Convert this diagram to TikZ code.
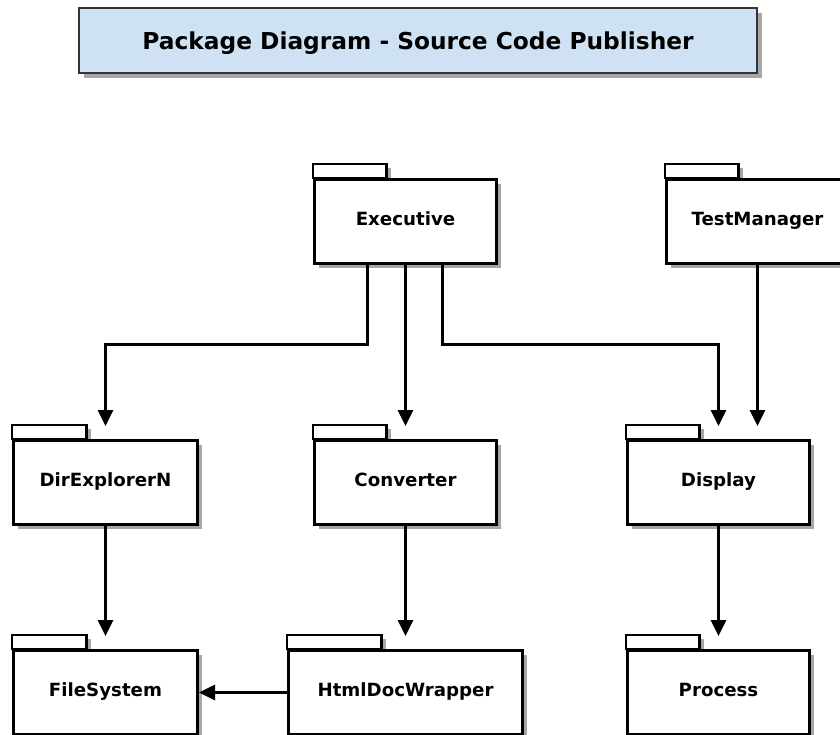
\documentclass[tikz,border=0pt]{standalone}
\usepackage{fontspec}
\setmainfont{DejaVu Sans}
\usetikzlibrary{arrows.meta,shadows,calc}
\tikzset{
  shd/.style={drop shadow={shadow xshift=4pt,shadow yshift=-4pt,fill=black!35,opacity=1}},
  pkgbody/.style={draw=black,line width=3pt,fill=white,shd,anchor=north west,minimum height=84pt,inner sep=0pt,text height=12pt,text depth=4.7pt,font=\bfseries\fontsize{18.2}{21}\selectfont},
  pkgtab/.style={draw=black,line width=2.8pt,fill=white,shd},
  titlebox/.style={draw=black!80,line width=2.2pt,fill={rgb,255:red,207;green,226;blue,243},drop shadow={shadow xshift=5pt,shadow yshift=-5pt,fill=black!35,opacity=1},minimum width=678pt,minimum height=65pt,inner sep=0pt,text height=17pt,text depth=0pt,font=\bfseries\fontsize{23.3}{27}\selectfont},
  arr/.style={line width=3pt,-{Triangle[length=16pt,width=15pt]}},
}
\newcommand{\pkgbox}[5]{% name, left, tabtop, width, text
  \path[pkgtab] (#2,#3) rectangle ($(#2,#3)+(0.405*#4,14)$);
  \node[pkgbody,minimum width=#4 pt] (#1) at (#2,#3+14) {#5};
}
\begin{document}
\begin{tikzpicture}[x=1pt,y=-1pt]
\useasboundingbox (0,0) rectangle (840,734);
\node[titlebox] (title) at (418,40.5) {Package Diagram - Source Code Publisher};
\pkgbox{exec}{313}{164}{182}{Executive}
\pkgbox{test}{665}{164}{182}{TestManager}
\pkgbox{dir}{12}{425}{184}{DirExplorerN}
\pkgbox{conv}{313}{425}{182}{Converter}
\pkgbox{disp}{626}{425}{182}{Display}
\pkgbox{fs}{12}{635}{184}{FileSystem}
\pkgbox{html}{287}{635}{234}{HtmlDocWrapper}
\pkgbox{proc}{626}{635}{182}{Process}
% arrows
\draw[arr] ([xshift=-38pt]exec.south) |- ($(dir.north)+(0,-95)$) -- ([yshift=13pt]dir.north);
\draw[arr] (exec.south) -- ([yshift=13pt]conv.north);
\draw[arr] ([xshift=37pt]exec.south) |- ($(disp.north)+(0,-95)$) -- ([yshift=13pt]disp.north);
\draw[arr] ([xshift=39pt]disp.north |- test.south) -- ([xshift=39pt,yshift=13pt]disp.north);
\draw[arr] (dir.south) -- ([yshift=13pt]fs.north);
\draw[arr] (conv.south) -- ([yshift=13pt]html.north);
\draw[arr] (disp.south) -- ([yshift=13pt]proc.north);
\draw[arr] (html.west) -- (fs.east);
\end{tikzpicture}
\end{document}
